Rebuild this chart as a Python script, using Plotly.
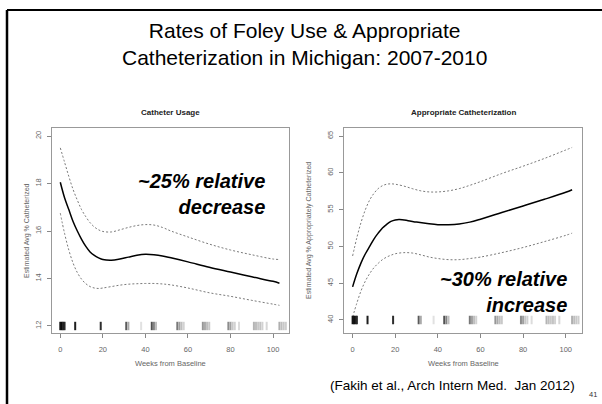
import plotly.graph_objects as go
from plotly.subplots import make_subplots

# ----------------------------------------------------------------------------
# values
weeks = [0, 2, 4, 6, 8, 10, 12, 14, 16, 18, 20, 24, 28, 32, 36, 40, 44, 48, 52,
         60, 70, 80, 90, 100, 103]

use_fit = [18.05, 17.4, 16.9, 16.4, 16.0, 15.65, 15.35, 15.12, 14.97, 14.87, 14.8,
           14.77, 14.82, 14.9, 14.98, 15.02, 15.0, 14.95, 14.87,
           14.7, 14.47, 14.27, 14.07, 13.88, 13.8]
use_upper = [19.5, 18.9, 18.3, 17.75, 17.3, 16.9, 16.6, 16.35, 16.17, 16.05, 15.98,
             15.96, 16.05, 16.15, 16.23, 16.27, 16.25, 16.15, 16.0,
             15.75, 15.45, 15.2, 15.0, 14.82, 14.8]
use_lower = [16.75, 15.9, 15.2, 14.65, 14.25, 13.97, 13.78, 13.66, 13.6, 13.58, 13.6,
             13.66, 13.72, 13.76, 13.78, 13.79, 13.79, 13.77, 13.73,
             13.6, 13.4, 13.25, 13.08, 12.92, 12.87]

weeks_app = [0, 2, 4, 6, 8, 10, 12, 14, 16, 18, 20, 22, 26, 30, 35, 40, 45, 50, 55,
             60, 70, 80, 90, 100, 103]
app_fit = [44.5, 46.3, 47.8, 49.0, 50.0, 51.0, 51.8, 52.5, 53.0, 53.4, 53.6, 53.65,
           53.5, 53.3, 53.1, 52.95, 52.95, 53.05, 53.3,
           53.7, 54.6, 55.5, 56.4, 57.35, 57.7]
weeks_app_ci = [0, 2, 4, 6, 8, 10, 12, 14, 16, 18, 20, 24, 28, 32, 36, 40, 45, 50, 55,
                60, 70, 80, 90, 100, 103]
app_upper = [48.7, 51.2, 53.3, 55.0, 56.3, 57.2, 57.85, 58.25, 58.45, 58.5, 58.45,
             58.2, 57.85, 57.55, 57.4, 57.4, 57.55, 57.85, 58.3,
             58.8, 59.9, 60.9, 61.95, 63.1, 63.45]
app_lower = [40.4, 42.3, 44.0, 45.3, 46.3, 47.1, 47.7, 48.2, 48.55, 48.8, 49.0,
             49.15, 49.1, 48.85, 48.55, 48.35, 48.2, 48.2, 48.35,
             48.55, 49.15, 49.85, 50.65, 51.5, 51.8]

# observation rug (week, grey level)
rug_weeks = [0, 0.7, 1.4, 2, 7, 19, 31, 32, 38, 43, 44, 45, 55, 56, 57, 58,
             67, 68, 69, 70, 79, 80, 81, 82, 84, 91, 92, 93, 94, 95, 97,
             103, 104, 105, 106]
rug_grey = [20, 10, 30, 40, 30, 45, 90, 170, 225, 80, 130, 190, 120, 160, 190, 210,
            150, 170, 190, 200, 140, 160, 200, 210, 220, 180, 190, 200, 195, 210, 215,
            175, 190, 200, 205]

x_ticks = [0, 20, 40, 60, 80, 100]
use_ticks = [12, 14, 16, 18, 20]
app_ticks = [40, 45, 50, 55, 60, 65]

W, H = 602, 404


def px_x(p):
    return p / W


def px_y(p):
    return 1 - p / H


fig = make_subplots(rows=1, cols=2)

rug_colors = ["rgb(%d,%d,%d)" % (g, g, g) for g in rug_grey]

panels = [
    (1, weeks, use_fit, weeks, use_upper, use_lower, use_ticks[0]),
    (2, weeks_app, app_fit, weeks_app_ci, app_upper, app_lower, app_ticks[0]),
]
for col, wx, fit, wci, up, lo, rug_y in panels:
    for band in (up, lo):
        fig.add_trace(go.Scatter(x=wci, y=band, mode="lines", line_shape="spline",
                                 line=dict(color="#7a7a7a", width=1, dash="2px,2px")),
                      row=1, col=col)
    fig.add_trace(go.Scatter(x=wx, y=fit, mode="lines", line_shape="spline",
                             line=dict(color="black", width=1.5)),
                  row=1, col=col)
    fig.add_trace(go.Scatter(x=rug_weeks, y=[rug_y] * len(rug_weeks), mode="markers",
                             marker=dict(symbol="line-ns", size=6,
                                         line=dict(width=2, color=rug_colors))),
                  row=1, col=col)

axis_font = dict(family="Liberation Sans, Arial", size=7.5, color="#666")
for col, dom in ((1, [52, 289]), (2, [344.3, 581.7])):
    fig.update_xaxes(domain=[px_x(dom[0]), px_x(dom[1])], range=[-3.9, 107.5],
                     tickvals=x_ticks, ticks="outside", ticklen=4, tickcolor="#888",
                     showline=True, mirror=True, linecolor="#999", linewidth=1,
                     showgrid=False, zeroline=False, tickfont=axis_font,
                     ticklabelstandoff=5, row=1, col=col)
fig.update_yaxes(domain=[px_y(333), px_y(128)], showline=True, mirror=True,
                 linecolor="#999", linewidth=1, showgrid=False, zeroline=False,
                 ticks="outside", ticklen=4, tickcolor="#888", tickangle=-90,
                 tickfont=axis_font, ticklabelstandoff=3)
fig.update_yaxes(range=[11.705, 20.337], tickvals=use_ticks, row=1, col=1)
fig.update_yaxes(range=[38.23, 66.09], tickvals=app_ticks, row=1, col=2)

sans = "Liberation Sans, Arial"
notes = [
    dict(text="Rates of Foley Use &amp; Appropriate<br>Catheterization in Michigan: 2007-2010",
         x=px_x(304), y=px_y(44), size=21, color="black"),
    dict(text="<b>Catheter Usage</b>", x=px_x(170.5), y=px_y(112), size=8, color="#222"),
    dict(text="<b>Appropriate Catheterization</b>", x=px_x(463), y=px_y(112), size=8,
         color="#222"),
    dict(text="Weeks from Baseline", x=px_x(170.5), y=px_y(363), size=7.5, color="#666"),
    dict(text="Weeks from Baseline", x=px_x(463), y=px_y(363), size=7.5, color="#666"),
    dict(text="(Fakih et al., Arch Intern Med.\u00a0 Jan 2012)", x=px_x(452), y=px_y(385),
         size=13.5, color="black"),
    dict(text="41", x=px_x(593), y=px_y(394), size=7.5, color="#333"),
]
for n in notes:
    fig.add_annotation(text=n["text"], x=n["x"], y=n["y"], xref="paper", yref="paper",
                       showarrow=False, xanchor="center", yanchor="middle",
                       font=dict(family=sans, size=n["size"], color=n["color"]))

for text, x, y in (("Estimated Avg % Catheterized", 21, 231),
                   ("Estimated Avg % Appropriately Catheterized", 309, 231)):
    fig.add_annotation(text=text, x=px_x(x), y=px_y(y), xref="paper", yref="paper",
                       showarrow=False, textangle=-90,
                       font=dict(family=sans, size=7, color="#666"))

for text, x, y in (("~25% relative<br>decrease", 267, 193.5),
                   ("~30% relative<br>increase", 569, 292)):
    fig.add_annotation(text="<b><i>" + text.replace("<br>", "</i></b><br><b><i>") + "</i></b>",
                       x=px_x(x), y=px_y(y), xref="paper", yref="paper",
                       showarrow=False, xanchor="right", yanchor="middle", align="right",
                       font=dict(family=sans, size=20, color="black"))

# slide frame
fig.add_shape(type="line", xref="paper", yref="paper", x0=px_x(7), x1=1,
              y0=px_y(10), y1=px_y(10), line=dict(color="black", width=2))
fig.add_shape(type="line", xref="paper", yref="paper", x0=px_x(7), x1=px_x(7),
              y0=px_y(10), y1=0, line=dict(color="black", width=2.5))

fig.update_layout(width=W, height=H, showlegend=False, paper_bgcolor="white",
                  plot_bgcolor="white", margin=dict(l=0, r=0, t=0, b=0),
                  hovermode=False)

fig.write_html("out.html", config={"displayModeBar": False},
               post_script="document.body.style.margin='0px';")
